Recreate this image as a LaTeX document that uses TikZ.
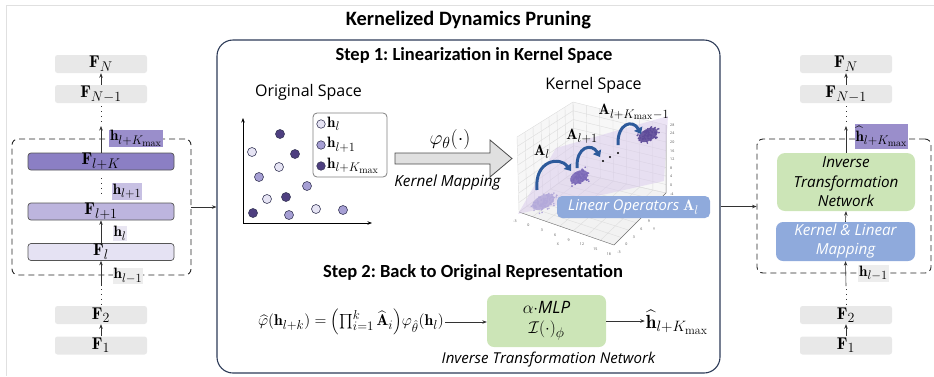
\RequirePackage{fix-cm}
\documentclass[tikz,border=0pt]{standalone}
\usepackage{amsmath}
\usepackage{fontspec}
\newfontfamily\osans{Open Sans}
\newfontfamily\carl{Carlito}
\usetikzlibrary{arrows.meta,calc}
\DeclareMathSizes{15}{15}{12.5}{10}
\DeclareMathSizes{15.6}{15.6}{13}{10.4}
\DeclareMathSizes{17}{17}{14}{11}
\DeclareMathSizes{19}{19}{15}{12}
\DeclareMathSizes{20}{20}{16}{12}
\definecolor{lgray}{HTML}{E8E8E8}
\definecolor{purpL}{HTML}{E5E2F3}
\definecolor{purpM}{HTML}{BDB5DE}
\definecolor{purpD}{HTML}{8B7FC4}
\definecolor{hK}{HTML}{9A8ECB}
\definecolor{hA}{HTML}{C7C0E3}
\definecolor{hB}{HTML}{E9E6F2}
\definecolor{hC}{HTML}{EDEDED}
\definecolor{ptL}{HTML}{E6E4F4}
\definecolor{ptM}{HTML}{A69FD4}
\definecolor{ptD}{HTML}{4E3F80}
\definecolor{ptB}{HTML}{3A3A5A}
\definecolor{grn}{HTML}{CCE5B7}
\definecolor{blu}{HTML}{8FAADC}
\definecolor{navy}{HTML}{2C3A57}
\definecolor{cloudL}{HTML}{B3A9DA}
\definecolor{cloudM}{HTML}{7B69B8}
\definecolor{cloudD}{HTML}{5E4B99}
\definecolor{arrblue}{HTML}{2D5A9B}
\definecolor{planec}{HTML}{D9C9EC}
\definecolor{bord}{HTML}{555555}
\definecolor{gridc}{HTML}{DDDDDD}
\newcommand\mfont{\fontsize{17}{19}\selectfont}
\newcommand\hfont{\fontsize{15}{17}\selectfont}
\frenchspacing
\begin{document}
\begin{tikzpicture}[x=1pt,y=-1pt,
  >={Stealth[length=4.5pt,width=3.5pt]},
  layer/.style={fill=lgray, rounded corners=2.5pt, minimum width=92pt, minimum height=18pt, inner sep=0pt, font=\mfont},
  wide/.style={draw=bord, line width=0.7pt, rounded corners=3pt, minimum width=146pt, minimum height=17pt, inner sep=0pt, font=\mfont},
  hlab/.style={inner sep=1pt, font=\hfont},
  arr/.style={->, line width=0.6pt, draw=black!80},
  dotline/.style={line width=1pt, dash pattern=on 1.1pt off 3.8pt, draw=black!80},
  dashbox/.style={draw=black!85, line width=0.9pt, dash pattern=on 6pt off 4pt, rounded corners=6pt, inner sep=0pt},
  pt/.style={circle, draw=ptB, line width=0.6pt, minimum size=9pt, inner sep=0pt},
  barrow/.style={line width=3pt, draw=arrblue, -{Triangle[length=6pt,width=9pt]}},
  tick/.style={font=\osans\fontsize{3.6}{4}\selectfont, text=black!70, inner sep=0pt}
]
\useasboundingbox (0,0) rectangle (934,376);
% faint frame
\draw[black!12, line width=0.6pt] (6,376) -- (6,5) -- (934,5);

% title
\node[font=\carl\bfseries\fontsize{20.4}{23}\selectfont] (title) at (468.5,20) {Kernelized Dynamics Pruning};

% ===== left column =====
\node[layer] (lFN) at (101,64) {$\mathbf{F}_N$};
\node[layer] (lFN1) at (101,94) {$\mathbf{F}_{N-1}$};
\node[dashbox, minimum width=179pt, minimum height=136pt] (ldash) at (101.5,207) {};
\node[wide, fill=purpD] (lFK) at (101,161.5) {$\mathbf{F}_{l+K}$};
\node[wide, fill=purpM] (lF1p) at (101,211.5) {$\mathbf{F}_{l+1}$};
\node[wide, fill=purpL] (lFl) at (101,252) {$\mathbf{F}_l$};
\node[layer] (lF2) at (101,315) {$\mathbf{F}_2$};
\node[layer] (lF1) at (101,345.5) {$\mathbf{F}_1$};
\node[hlab, fill=hK] (lhK) at (136,138.5) {$\mathbf{h}_{l+K_{\max}}$};
\node[hlab, fill=hA] (lh1) at (127,191.5) {$\mathbf{h}_{l+1}$};
\node[hlab, fill=hB] (lhl) at (120,233.5) {$\mathbf{h}_{l}$};
\node[hlab, fill=hC] (lhm) at (128,276) {$\mathbf{h}_{l-1}$};
\coordinate (lTopA) at (101,126);
\coordinate (lTopD) at (101,122);
\coordinate (lMidA) at (101,178);
\coordinate (lMidB) at (101,195);
\coordinate (lBotA) at (101,286);
\coordinate (lBotB) at (101,289);
\coordinate (lBotC) at (101,305);
\draw[arr] (lFN1.north) -- (lFN.south);
\draw[dotline] ($(lFN1.south)+(0,3)$) -- (lTopD);
\draw[arr] (lFK.north) -- (lTopA);
\draw[dotline] (lMidA) -- (lMidB);
\draw[arr] (lFl.north) -- (lF1p.south);
\draw[arr] (lBotA) -- (lFl.south);
\draw[dotline] (lBotB) -- (lBotC);
\draw[arr] (lF1.north) -- (lF2.south);

% ===== main box =====
\node[draw=navy, line width=1.1pt, rounded corners=16pt, minimum width=503pt, minimum height=333pt, inner sep=0pt] (main) at (468.5,206.5) {};
\draw[arr] (ldash.east) -- (ldash.east -| main.west);

\node[font=\carl\bfseries\fontsize{18.5}{21}\selectfont] (step1) at (474,55) {Step 1: Linearization in Kernel Space};
\node[font=\osans\fontsize{16}{18}\selectfont] (orig) at (308.5,92) {Original Space};

% axes
\coordinate (ax0) at (243,223);
\coordinate (axY) at (243,118);
\coordinate (axX) at (372,223);
\draw[->, line width=0.7pt] (ax0) -- (axY);
\draw[->, line width=0.7pt] (ax0) -- (axX);
% points
\node[pt, fill=ptL] (p1) at (252,152) {};
\node[pt, fill=ptL] (p2) at (279,167) {};
\node[pt, fill=ptL] (p3) at (267,199) {};
\node[pt, fill=ptL] (p4) at (316,209) {};
\node[pt, fill=ptM] (p5) at (259,177) {};
\node[pt, fill=ptM] (p6) at (307,186) {};
\node[pt, fill=ptM] (p7) at (289,215) {};
\node[pt, fill=ptM] (p8) at (343,210) {};
\node[pt, fill=ptD] (p9) at (280,134) {};
\node[pt, fill=ptD] (p10) at (295,154) {};
\node[pt, fill=ptD] (p11) at (286,197) {};
\node[pt, fill=ptD] (p12) at (253,213) {};
% legend
\node[draw=black!50, fill=white, line width=0.8pt, rounded corners=4pt, minimum width=74pt, minimum height=64pt, inner sep=0pt] (leg) at (350,145) {};
\node[pt, fill=ptL, minimum size=8.5pt] (lg1) at (321,124) {};
\node[pt, fill=ptM, minimum size=8.5pt] (lg2) at (321,145) {};
\node[pt, fill=ptD, minimum size=8.5pt] (lg3) at (321,166) {};
\node[hlab, anchor=west] (lt1) at (326,124) {$\mathbf{h}_{l}$};
\node[hlab, anchor=west] (lt2) at (326,145) {$\mathbf{h}_{l+1}$};
\node[hlab, anchor=west] (lt3) at (326,166) {$\mathbf{h}_{l+K_{\max}}$};

% big arrow
\draw[fill=black!12, draw=black!70, line width=0.8pt] (395,153) -- (490,153) -- (490,140) -- (512,158.5) -- (490,177) -- (490,164) -- (395,164) -- cycle;
\node[font=\fontsize{20}{22}\selectfont] (phi) at (450,139) {$\varphi_\theta(\cdot)$};
\node[font=\osans\itshape\fontsize{15.3}{17}\selectfont] (kmap) at (447.5,183) {Kernel Mapping};

% ===== kernel space plot =====
\node[font=\osans\fontsize{16}{18}\selectfont] (kspace) at (593.5,85) {Kernel Space};
\coordinate (L) at (519,212);
\coordinate (B) at (574,172);
\coordinate (R) at (666,193);
\coordinate (F) at (614,245);
\coordinate (Lt) at (517,137);
\coordinate (Bt) at (573,102);
\coordinate (Rt) at (666,125);
\fill[black!3] (L) -- (B) -- (Bt) -- (Lt) -- cycle;
\fill[black!3] (B) -- (R) -- (Rt) -- (Bt) -- cycle;
\fill[black!5] (L) -- (B) -- (R) -- (F) -- cycle;
\foreach \t in {0,0.143,0.286,0.429,0.571,0.714,0.857,1}{
  \draw[gridc, line width=0.4pt] ($(L)!\t!(B)$) -- ($(Lt)!\t!(Bt)$);
  \draw[gridc, line width=0.4pt] ($(B)!\t!(R)$) -- ($(Bt)!\t!(Rt)$);
  \draw[gridc, line width=0.4pt] ($(L)!\t!(F)$) -- ($(B)!\t!(R)$);
  \draw[gridc, line width=0.4pt] ($(L)!\t!(B)$) -- ($(F)!\t!(R)$);
}
\foreach \t in {0,0.125,0.25,0.375,0.5,0.625,0.75,0.875,1}{
  \draw[gridc, line width=0.4pt] ($(L)!\t!(Lt)$) -- ($(B)!\t!(Bt)$) -- ($(R)!\t!(Rt)$);
}
\draw[black!55, line width=0.4pt] (L) -- (F) -- (R) -- (Rt);
% plane
\fill[planec, opacity=0.5] (518,214) -- (556,148) -- (668,116) -- (664,181) -- cycle;
% clouds
\pgfmathsetseed{7}
\begin{scope}[shift={(543,202)}, rotate=28]
  \fill[cloudL, opacity=0.85] (0,0) ellipse (12 and 6.5);
  \foreach \i in {1,...,90}{
    \pgfmathsetmacro{\u}{(rand+rand)*8}
    \pgfmathsetmacro{\v}{(rand+rand)*4.5}
    \fill[cloudL] (\u,\v) rectangle ++(1.3,1.3);
  }
\end{scope}
\begin{scope}[shift={(579,177)}, rotate=28]
  \fill[cloudM, opacity=0.9] (0,0) ellipse (9.5 and 6);
  \foreach \i in {1,...,70}{
    \pgfmathsetmacro{\u}{(rand+rand)*6.5}
    \pgfmathsetmacro{\v}{(rand+rand)*4}
    \fill[cloudM] (\u,\v) rectangle ++(1.3,1.3);
  }
\end{scope}
\begin{scope}[shift={(648,135)}, rotate=28]
  \fill[cloudD, opacity=0.9] (0,0) ellipse (10.5 and 6);
  \foreach \i in {1,...,70}{
    \pgfmathsetmacro{\u}{(rand+rand)*7}
    \pgfmathsetmacro{\v}{(rand+rand)*4}
    \fill[cloudD] (\u,\v) rectangle ++(1.3,1.3);
  }
\end{scope}
\fill (603,161) circle (1.2) (610,157) circle (1.2) (618,153) circle (1.2);
% curved arrows
\draw[barrow] (537,190) .. controls (534,160) and (560,156) .. (571,171);
\draw[barrow] (577,168) .. controls (576,146) and (592,143) .. (600,157);
\draw[barrow] (618,145) .. controls (617,123) and (633,119) .. (641,134);
\node[font=\fontsize{15}{17}\selectfont] (Al) at (542,152) {$\mathbf{A}_l$};
\node[font=\fontsize{15}{17}\selectfont] (Al1) at (582,136) {$\mathbf{A}_{l+1}$};
\node[font=\fontsize{15}{17}\selectfont] (AlK) at (634,112) {$\mathbf{A}_{l+K_{\max}-1}$};
% ticks
\foreach \s [count=\k from 0] in {-3,0,3,6,9,12,15,18}{
  \node[tick] at ($(515,221)+\k*(13.4,4.7)$) {\s};
}
\node[tick] (xl) at (558,244) {X};
\foreach \s [count=\k from 0] in {-3,0,3,6,9}{
  \node[tick] at ($(619,252)+\k*(7.5,-7.6)$) {\s};
}
\node[tick] (yl) at (654,229) {Y};
\foreach \s [count=\k from 0] in {28,24,20,16,12,8,4,0,-4}{
  \node[tick, anchor=west] at ($(670,125)+\k*(0,8.6)$) {\s};
}
\node[fill=blu, rounded corners=5pt, minimum width=153pt, minimum height=22pt, inner sep=0pt, text=white, font=\osans\itshape\fontsize{14.8}{17}\selectfont] (linop) at (633.5,207) {Linear Operators \fontsize{15}{17}\selectfont$\mathbf{A}_l$};

% ===== step 2 =====
\node[font=\carl\bfseries\fontsize{18.5}{21}\selectfont] (step2) at (473,273) {Step 2: Back to Original Representation};
\node[font=\fontsize{15.6}{17}\selectfont, inner sep=1pt] (form) at (351,322) {$\widehat{\varphi}(\mathbf{h}_{l+k}) = \Bigl(\prod_{i=1}^{k}\widehat{\mathbf{A}}_i\Bigr)\varphi_{\hat{\theta}}(\mathbf{h}_l)$};
\node[fill=grn, rounded corners=7pt, minimum width=119pt, minimum height=52pt, inner sep=0pt, align=center, font=\fontsize{17}{20}\selectfont] (itn) at (546.5,321) {$\alpha\cdot$\osans\itshape MLP\\$\mathcal{I}(\cdot)_\phi$};
\node[font=\fontsize{19}{21}\selectfont, inner sep=1pt] (hhat) at (677,322) {$\widehat{\mathbf{h}}_{l+K_{\max}}$};
\draw[arr] (form.east) -- (form.east -| itn.west);
\draw[arr] (itn.east) -- (itn.east -| hhat.west);
\node[font=\osans\itshape\fontsize{15}{17}\selectfont] (itnl) at (548.5,360) {Inverse Transformation Network};

% ===== right column =====
\node[layer] (rFN) at (846,64) {$\mathbf{F}_N$};
\node[layer] (rFN1) at (846,94) {$\mathbf{F}_{N-1}$};
\node[dashbox, minimum width=174pt, minimum height=134pt] (rdash) at (844,206) {};
\node[fill=grn, rounded corners=8pt, minimum width=138pt, minimum height=58pt, inner sep=0pt, align=center, font=\osans\itshape\fontsize{15.2}{19.5}\selectfont] (rITN) at (846,182) {Inverse\\Transformation\\Network};
\node[fill=blu, rounded corners=7pt, minimum width=139pt, minimum height=39pt, inner sep=0pt, align=center, text=white, font=\osans\itshape\fontsize{15.2}{19}\selectfont] (rKLM) at (845.5,241.5) {Kernel \& Linear\\Mapping};
\node[hlab, fill=hK, inner ysep=2.5pt] (rhK) at (881.5,136.5) {$\widehat{\mathbf{h}}_{l+K_{\max}}$};
\node[hlab, fill=hC] (rhm) at (873.5,273.5) {$\mathbf{h}_{l-1}$};
\node[layer] (rF2) at (846,315) {$\mathbf{F}_2$};
\node[layer] (rF1) at (846,345.5) {$\mathbf{F}_1$};
\coordinate (rTopA) at (846,126);
\coordinate (rTopD) at (846,122);
\coordinate (rBotA) at (846,286);
\coordinate (rBotB) at (846,289);
\coordinate (rBotC) at (846,305);
\draw[arr] (rFN1.north) -- (rFN.south);
\draw[dotline] ($(rFN1.south)+(0,3)$) -- (rTopD);
\draw[arr] (rITN.north) -- (rTopA);
\draw[arr] (rKLM.north) -- (rITN.south);
\draw[arr] (rBotA) -- (rKLM.south);
\draw[dotline] (rBotB) -- (rBotC);
\draw[arr] (rF1.north) -- (rF2.south);
\draw[arr] (main.east) -- (main.east -| rdash.west);
\end{tikzpicture}
\end{document}
